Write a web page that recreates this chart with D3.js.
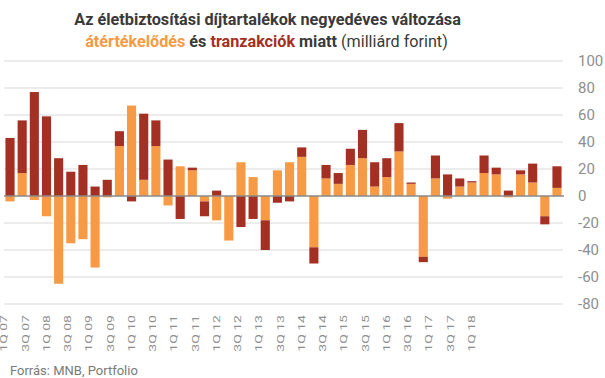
<!DOCTYPE html>
<html lang="hu">
<head>
<meta charset="utf-8">
<title>Díjtartalékok</title>
<script src="https://cdn.jsdelivr.net/npm/d3@7"></script>
<style>
    body { margin: 0; background: #fff; }
    svg text { font-family: Roboto, "Noto Sans", sans-serif; }
    .grid line { stroke: #d9d9d9; stroke-width: 1; }
</style>
</head>
<body>
<div id="chart"></div>
<script>
// quarters 1Q07 .. 2Q18
var quarters = [];
for (var y = 7; y <= 18; y++) {
    for (var q = 1; q <= 4; q++) {
        if (y == 18 && q > 2) break;
        quarters.push(q + "Q " + (y < 10 ? "0" + y : y));
    }
}

// átértékelődés (revaluation), milliárd forint
var reval = [-4, 17, -3, -15, -65, -35, -32, -53, -1, 37, 67, 12,
    37, -7, 22, 19, -4, -18, -33, 25, 14, -18, 19, 25,
    29, -38, 13, 9, 23, 28, 7, 14, 33, 9, -45, 13,
    -2, 7, 10, 17, 16, -1, 16, 10, -15, 6];

// tranzakciók (transactions), milliárd forint
var trans = [43, 39, 77, 59, 28, 18, 23, 7, 12, 11, -4, 49,
    19, 27, -17, 2, -11, 4, 0, -23, -17, -22, -5, -4,
    7, -12, 10, 8, 12, 21, 18, 14, 21, 1, -4, 17,
    16, 6, 1, 13, 5, 4, 3, 14, -6, 16];

var xLabels = quarters.filter(function(d, i) { return i % 2 == 0; });
var yTicks = [-80, -60, -40, -20, 0, 20, 40, 60, 80, 100];

var orange = "#f79a45", darkred = "#a33022";

var width = 605, height = 378;

var svg = d3.select("#chart").append("svg")
    .attr("width", width)
    .attr("height", height);

var x = d3.scaleBand()
    .domain(quarters)
    .range([4, 563])
    .paddingInner(0.25)
    .paddingOuter(0.12);

var y = d3.scaleLinear()
    .domain([-80, 100])
    .range([304, 61]);

// gridlines
svg.append("g").attr("class", "grid")
    .selectAll("line")
    .data(yTicks.filter(function(d) { return d != 0; }))
    .enter().append("line")
    .attr("x1", 4).attr("x2", 563)
    .attr("y1", function(d) { return y(d); })
    .attr("y2", function(d) { return y(d); });

// y labels on right
svg.append("g")
    .selectAll("text")
    .data(yTicks)
    .enter().append("text")
    .attr("x", 578)
    .attr("y", function(d) { return y(d) + 5; })
    .style("font-size", "15px")
    .style("fill", "#8e8e8e")
    .text(function(d) { return d; });

// stacked bars
var rows = quarters.map(function(q, i) {
    return { q: q, reval: reval[i], trans: trans[i] };
});

var series = d3.stack()
    .keys(["reval", "trans"])
    .offset(d3.stackOffsetDiverging)(rows);

var colors = { reval: orange, trans: darkred };

svg.append("g")
    .selectAll("g")
    .data(series)
    .enter().append("g")
    .attr("fill", function(s) { return colors[s.key]; })
    .selectAll("rect")
    .data(function(s) { return s; })
    .enter().append("rect")
    .attr("x", function(d) { return x(d.data.q); })
    .attr("width", x.bandwidth())
    .attr("y", function(d) { return y(d[1]); })
    .attr("height", function(d) { return Math.abs(y(d[0]) - y(d[1])); });

// zero line
svg.append("line")
    .attr("x1", 4).attr("x2", 564)
    .attr("y1", y(0)).attr("y2", y(0))
    .attr("stroke", "#8a8a8a")
    .attr("stroke-width", 1.5);

// x labels (spaced like the original, not exactly under the bars)
var xl = d3.scalePoint()
    .domain(xLabels)
    .range([7.3, 475]);

svg.append("g")
    .selectAll("text")
    .data(xLabels)
    .enter().append("text")
    .attr("transform", function(d) { return "translate(" + xl(d) + ",315) scale(0.66,1) rotate(-90)"; })
    .attr("text-anchor", "end")
    .style("font-size", "14px")
    .style("fill", "#8e8e8e")
    .text(function(d) { return d; });

// title: narrow font look, squeeze each line to the reference width
function squeeze(sel, cx, w) {
    var bw = sel.node().getComputedTextLength();
    var k = w / bw;
    sel.attr("transform", "translate(" + cx + ",0) scale(" + k + ",1)");
}

var t1 = svg.append("text")
    .attr("x", 0).attr("y", 25)
    .attr("text-anchor", "middle")
    .style("font-size", "17px")
    .style("font-weight", "bold")
    .style("fill", "#3a3a3a")
    .text("Az életbiztosítási díjtartalékok negyedéves változása");
squeeze(t1, 267.5, 387);

var t2 = svg.append("text")
    .attr("x", 0).attr("y", 47)
    .attr("text-anchor", "middle")
    .style("font-size", "17px")
    .style("fill", "#3a3a3a");
t2.append("tspan").style("font-weight", "bold").style("fill", orange).text("átértékelődés");
t2.append("tspan").style("font-weight", "bold").text(" és ");
t2.append("tspan").style("font-weight", "bold").style("fill", darkred).text("tranzakciók");
t2.append("tspan").style("font-weight", "bold").text(" miatt ");
t2.append("tspan").text("(milliárd forint)");
squeeze(t2, 266.5, 363);

// source
svg.append("text")
    .attr("x", 10).attr("y", 375)
    .style("font-size", "13px")
    .style("fill", "#7a7a7a")
    .text("Forrás: MNB, Portfolio");
</script>
</body>
</html>
